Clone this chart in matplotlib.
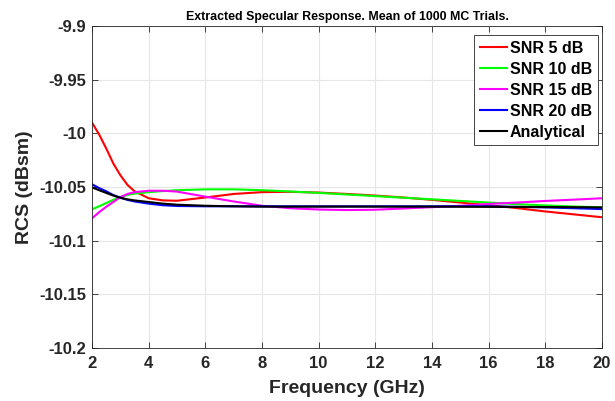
import matplotlib
matplotlib.use('Agg')
from matplotlib import pyplot as plt

# frequency samples (GHz) and mean RCS per curve (dBsm)
freq = [2, 2.25, 2.5, 2.75, 3, 3.25, 3.5, 4, 4.5, 5, 6, 7, 8, 9, 10,
        11, 12, 13, 14, 15, 16, 17, 18, 19, 20]
snr5 = [-9.990, -10.001, -10.014, -10.028, -10.039, -10.048, -10.054,
        -10.0605, -10.0625, -10.0628, -10.0598, -10.0565, -10.0548,
        -10.0545, -10.0552, -10.0565, -10.058, -10.0598, -10.062,
        -10.0645, -10.067, -10.0697, -10.0728, -10.0755, -10.0782]
snr10 = [-10.0708, -10.068, -10.065, -10.062, -10.0595, -10.0575,
         -10.0562, -10.0548, -10.0538, -10.053, -10.0522, -10.0522,
         -10.053, -10.0542, -10.0555, -10.057, -10.0585, -10.060,
         -10.0615, -10.063, -10.0645, -10.066, -10.0672, -10.0682, -10.069]
snr15 = [-10.0792, -10.0735, -10.0685, -10.064, -10.0595, -10.0565,
         -10.0548, -10.0535, -10.0535, -10.0543, -10.059, -10.0635,
         -10.0675, -10.0698, -10.071, -10.0715, -10.0712, -10.070,
         -10.0688, -10.0675, -10.0658, -10.0645, -10.063, -10.0618,
         -10.0605]
snr20 = [-10.0475, -10.051, -10.054, -10.0575, -10.060, -10.062,
         -10.0635, -10.0655, -10.067, -10.0677, -10.068, -10.068,
         -10.068, -10.068, -10.068, -10.068, -10.068, -10.068, -10.068,
         -10.068, -10.068, -10.0685, -10.069, -10.0698, -10.0706]
analytical = [-10.0503, -10.053, -10.0555, -10.058, -10.060, -10.0615,
              -10.0625, -10.064, -10.0655, -10.0665, -10.0675, -10.068,
              -10.0683, -10.0683, -10.0683, -10.0683, -10.0683, -10.0683,
              -10.0683, -10.0684, -10.0685, -10.0686, -10.0687, -10.0688,
              -10.069]

series = [
    (snr5, '#ff0000', 'SNR 5 dB'),
    (snr10, '#00ff00', 'SNR 10 dB'),
    (snr15, '#ff00ff', 'SNR 15 dB'),
    (snr20, '#0000ff', 'SNR 20 dB'),
    (analytical, '#000000', 'Analytical'),
]
x_ticks = [2, 4, 6, 8, 10, 12, 14, 16, 18, 20]
y_ticks = [-10.2, -10.15, -10.1, -10.05, -10, -9.95, -9.9]
y_labels = ['-10.2', '-10.15', '-10.1', '-10.05', '-10', '-9.95', '-9.9']

plt.rcParams['font.family'] = ['Liberation Sans', 'DejaVu Sans']
plt.rcParams['font.weight'] = 'bold'

fig = plt.figure(figsize=(6.15, 4.01), dpi=100)
ax = fig.add_axes([0.1496, 0.1322, 0.8293, 0.803])

for vals, color, label in series:
  ax.plot(freq, vals, color=color, linewidth=1.5, label=label)

ax.set_xlim(2, 20)
ax.set_ylim(-10.2, -9.9)
ax.set_xticks(x_ticks)
ax.set_yticks(y_ticks)
ax.set_yticklabels(y_labels)
ax.tick_params(direction='in', labelsize=12, colors='#262626',
               labelcolor='#262626', length=4, width=0.6)
ax.tick_params(axis='x', pad=5.5)
ax.tick_params(axis='y', pad=4)
ax.tick_params(top=True, right=True)
for side in ax.spines.values():
  side.set_color('#262626')
  side.set_linewidth(0.6)
ax.grid(True, color='#e6e6e6', linewidth=0.8)
ax.set_axisbelow(True)

ax.set_xlabel('Frequency (GHz)', fontsize=14, fontweight='bold',
              color='#262626', labelpad=7)
ax.set_ylabel('RCS (dBsm)', fontsize=14, fontweight='bold',
              color='#262626', labelpad=5)
ax.set_title('Extracted Specular Response. Mean of 1000 MC Trials.',
             fontsize=8.9, fontweight='bold', pad=4)

leg = ax.legend(loc='upper right', bbox_to_anchor=(0.992, 0.972),
                fontsize=11.5, fancybox=False, framealpha=1,
                edgecolor='#262626', handlelength=1.7,
                handletextpad=0.2, borderpad=0.35, labelspacing=0.38,
                borderaxespad=0)
leg.get_frame().set_linewidth(0.6)

fig.savefig('out.png', dpi=100)
